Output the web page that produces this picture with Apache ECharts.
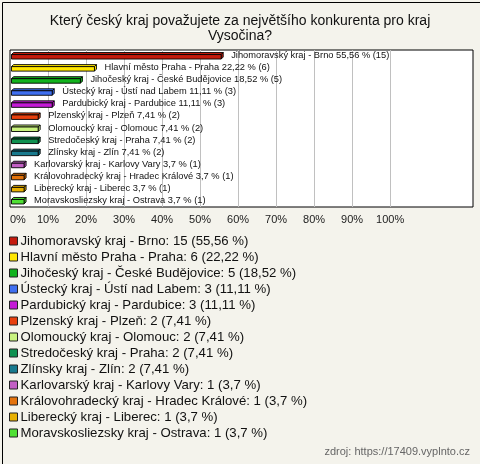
<!DOCTYPE html>
<html><head><meta charset="utf-8">
<script src="https://cdn.jsdelivr.net/npm/echarts@6/dist/echarts.min.js"></script>
<style>html,body{margin:0;padding:0;background:#f4f3ec}#c{width:480px;height:464px}</style>
</head><body><div id="c"></div>
<script>
const names = [
  "Jihomoravský kraj - Brno",
  "Hlavní město Praha - Praha",
  "Jihočeský kraj - České Budějovice",
  "Ústecký kraj - Ústí nad Labem",
  "Pardubický kraj - Pardubice",
  "Plzenský kraj - Plzeň",
  "Olomoucký kraj - Olomouc",
  "Stredočeský kraj - Praha",
  "Zlínsky kraj - Zlín",
  "Karlovarský kraj - Karlovy Vary",
  "Královohradecký kraj - Hradec Králové",
  "Liberecký kraj - Liberec",
  "Moravskosliezsky kraj - Ostrava"
];
const counts = [15, 6, 5, 3, 3, 2, 2, 2, 2, 1, 1, 1, 1];
const percents = [55.56, 22.22, 18.52, 11.11, 11.11, 7.41, 7.41, 7.41, 7.41, 3.7, 3.7, 3.7, 3.7];
const colors = ["#c41a0c", "#ffe600", "#12b31e", "#3f6ff0", "#c41ad6", "#e8400e", "#c9f37f", "#0f9150", "#187a8e", "#c25fc4", "#e4730c", "#e8b000", "#4fe034"];
const tickValues = [0, 10, 20, 30, 40, 50, 60, 70, 80, 90, 100];

const fmt = v => String(v).replace('.', ',');
const FONT = '"Liberation Sans", Arial, sans-serif';

const series = names.map((n, i) => ({
  type: 'custom',
  name: n + ': ' + counts[i] + ' (' + fmt(percents[i]) + ' %)',
  z: 5,
  itemStyle: { color: colors[i], borderColor: '#000', borderWidth: 1 },
  data: [[percents[i], i]],
  encode: { x: 0, y: 1 },
  renderItem: (params, api) => {
    const p0 = api.coord([0, api.value(1)]);
    const p1 = api.coord([api.value(0), api.value(1)]);
    const x0 = p0[0] + 1.5, x1 = p1[0], c = p0[1] + 0.5, d = 2;
    const col = colors[i];
    const top = c - 2, bot = c + 2.5;
    return {
      type: 'group',
      children: [
        { type: 'polygon', shape: { points: [[x0, top], [x0 + d, top - d], [x1 + d, top - d], [x1, top]] },
          style: { fill: col, stroke: '#000', lineWidth: 0.9 } },
        { type: 'polygon', shape: { points: [[x1, top], [x1 + d, top - d], [x1 + d, bot - d], [x1, bot]] },
          style: { fill: col, stroke: '#000', lineWidth: 0.9 } },
        { type: 'rect', shape: { x: x0, y: top, width: x1 - x0, height: bot - top },
          style: { fill: col, stroke: '#000', lineWidth: 0.9 } },
        { type: 'text', x: x1 + 10, y: c - 1,
          style: { text: names[i] + ' ' + fmt(percents[i]) + ' % (' + counts[i] + ')',
            fill: '#111', font: '9.3px ' + FONT, verticalAlign: 'middle', align: 'left' } }
      ]
    };
  }
}));

series.push({
  type: 'line', data: [], silent: true, z: 1,
  markLine: {
    silent: true, symbol: 'none', label: { show: false }, z: 1,
    lineStyle: { color: '#c0c0c0', type: 'solid', width: 1 },
    data: tickValues.filter(v => v > 0).map(v => ({ xAxis: v }))
  }
});

const chart = echarts.init(document.getElementById('c'), null, { renderer: 'canvas' });
chart.setOption({
  backgroundColor: '#f4f3ec',
  animation: false,
  title: {
    text: 'Který český kraj považujete za největšího konkurenta pro kraj\nVysočina?',
    left: 'center', top: 9,
    textStyle: { fontFamily: FONT, fontSize: 14, fontWeight: 'normal', color: '#111', lineHeight: 15 }
  },
  grid: { left: 10, right: 7, top: 50, bottom: 257, show: true, backgroundColor: '#fff', borderColor: '#000', borderWidth: 1, containLabel: false },
  xAxis: {
    type: 'value', min: 0, max: 121.8, interval: 10,
    axisLine: { show: false }, axisTick: { show: false }, splitLine: { show: false },
    axisLabel: {
      margin: 7, color: '#222', fontFamily: FONT, fontSize: 11,
      showMaxLabel: false, alignMinLabel: 'left',
      formatter: v => v <= 100 ? v + '%' : ''
    }
  },
  yAxis: {
    type: 'category', inverse: true, data: names.map((n, i) => i), show: false,
    boundaryGap: true
  },
  legend: {
    orient: 'vertical', left: 9, top: 234, padding: 0,
    itemWidth: 8, itemHeight: 8, itemGap: 2,
    icon: 'rect',
    itemStyle: { borderColor: '#222', borderWidth: 1 },
    textStyle: { fontFamily: FONT, fontSize: 13.2, color: '#111', lineHeight: 14, padding: [0, 0, 0, -2] },
    data: series.slice(0, names.length).map(s => s.name),
    selectedMode: false
  },
  graphic: [
    { type: 'text', right: 10, top: 446,
      style: { text: 'zdroj: https://17409.vyplnto.cz', fill: '#666', font: '11px ' + FONT } },
    { type: 'rect', left: 0, top: 0, shape: { x: 0.5, y: 0.5, width: 479, height: 463 },
      style: { fill: null, stroke: '#000', lineWidth: 1 }, silent: true }
  ],
  series: series
});
</script></body></html>
